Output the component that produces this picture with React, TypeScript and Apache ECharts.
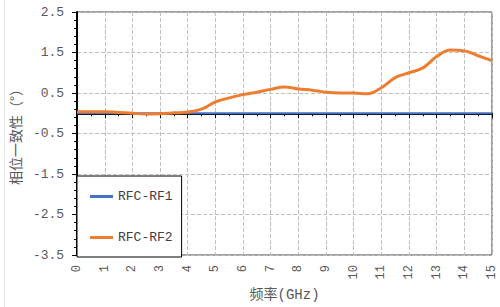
import React, { useEffect, useRef } from "react";
import * as echarts from "echarts";

const freqs = [0, 0.5, 1, 1.5, 2, 2.5, 3, 3.5, 4, 4.5, 5, 5.5, 6, 6.5, 7, 7.5, 8, 8.5, 9, 9.5, 10, 10.5, 11, 11.5, 12, 12.5, 13, 13.5, 14, 14.5, 15];
const rf1 = [0, 0, 0, 0, 0, 0, 0, 0, 0, 0, 0, 0, 0, 0, 0, 0, 0, 0, 0, 0, 0, 0, 0, 0, 0, 0, 0, 0, 0, 0, 0];
const rf2 = [0.04, 0.04, 0.04, 0.02, 0.0, -0.02, -0.01, 0.01, 0.03, 0.1, 0.28, 0.38, 0.46, 0.52, 0.59, 0.65, 0.6, 0.57, 0.52, 0.5, 0.5, 0.48, 0.63, 0.88, 1.0, 1.12, 1.4, 1.56, 1.54, 1.42, 1.3];
const seriesNames = ["RFC-RF1", "RFC-RF2"];
const seriesColors = ["#4472C4", "#ED7D31"];
const xName = "频率(GHz)";
const yName = "相位一致性（°）";

const MONO = "'Liberation Mono', 'Noto Sans CJK SC', monospace";
const CJK = "'Noto Sans CJK SC', 'Noto Sans', sans-serif";

export default function App() {
  const ref = useRef<HTMLDivElement>(null);
  useEffect(() => {
    if (!ref.current) return;
    const chart = echarts.init(ref.current, undefined, { renderer: "svg" });
    chart.setOption({
      animation: false,
      backgroundColor: "#ffffff",
      textStyle: { fontFamily: MONO },
      graphic: [
        { type: "line", shape: { x1: 4.5, y1: 0, x2: 4.5, y2: 307 }, style: { stroke: "#e6e6e6", lineWidth: 1 } },
      ],
      grid: {
        left: 77,
        right: 8,
        top: 12,
        bottom: 51,
        show: true,
        borderColor: "#404040",
        borderWidth: 1,
        containLabel: false,
      },
      legend: {
        orient: "vertical",
        left: 77,
        top: 176,
        data: seriesNames.map((n) => ({ name: n, icon: "rect" })),
        backgroundColor: "#ffffff",
        borderColor: "#000000",
        borderWidth: 1,
        padding: [13, 9, 12, 13],
        itemGap: 26,
        itemWidth: 23,
        itemHeight: 3,
        textStyle: { fontSize: 13, lineHeight: 15, color: "#404040", fontFamily: MONO },
      },
      xAxis: {
        type: "value",
        min: 0,
        max: 15,
        interval: 1,
        name: xName,
        nameLocation: "middle",
        nameGap: 33,
        nameTextStyle: { fontSize: 14, color: "#595959", fontFamily: MONO },
        axisLine: { show: true, lineStyle: { color: "#000000", width: 2 } },
        axisTick: { show: true, length: 5, lineStyle: { color: "#000000" } },
        minorTick: { show: true, splitNumber: 2, length: 3, lineStyle: { color: "#000000" } },
        axisLabel: { rotate: 90, margin: 10, fontSize: 12, color: "#595959", fontFamily: MONO },
        splitLine: { show: true, lineStyle: { type: "dashed", color: "#bfbfbf" } },
      },
      yAxis: {
        type: "value",
        min: -3.5,
        max: 2.5,
        interval: 1,
        name: yName,
        nameLocation: "middle",
        nameGap: 55,
        nameTextStyle: { fontSize: 14, color: "#595959", fontFamily: CJK },
        axisLine: { show: true, lineStyle: { color: "#000000", width: 2 } },
        axisTick: { show: true, length: 5, lineStyle: { color: "#000000" } },
        minorTick: { show: true, splitNumber: 5, length: 3, lineStyle: { color: "#000000" } },
        axisLabel: {
          margin: 13,
          fontSize: 13,
          color: "#595959",
          fontFamily: MONO,
          formatter: (v: number) => v.toFixed(1),
        },
        splitLine: { show: true, lineStyle: { type: "dashed", color: "#bfbfbf" } },
      },
      series: [
        {
          name: seriesNames[0],
          type: "line",
          data: freqs.map((f, i) => [f, rf1[i]]),
          symbol: "none",
          lineStyle: { color: seriesColors[0], width: 2 },
          itemStyle: { color: seriesColors[0] },
          z: 3,
        },
        {
          name: seriesNames[1],
          type: "line",
          data: freqs.map((f, i) => [f, rf2[i]]),
          symbol: "none",
          smooth: 0.4,
          lineStyle: { color: seriesColors[1], width: 3 },
          itemStyle: { color: seriesColors[1] },
          z: 4,
        },
      ],
    });
    return () => chart.dispose();
  }, []);
  return <div ref={ref} style={{ width: 500, height: 307, position: "absolute", left: 0, top: 0 }} />;
}
